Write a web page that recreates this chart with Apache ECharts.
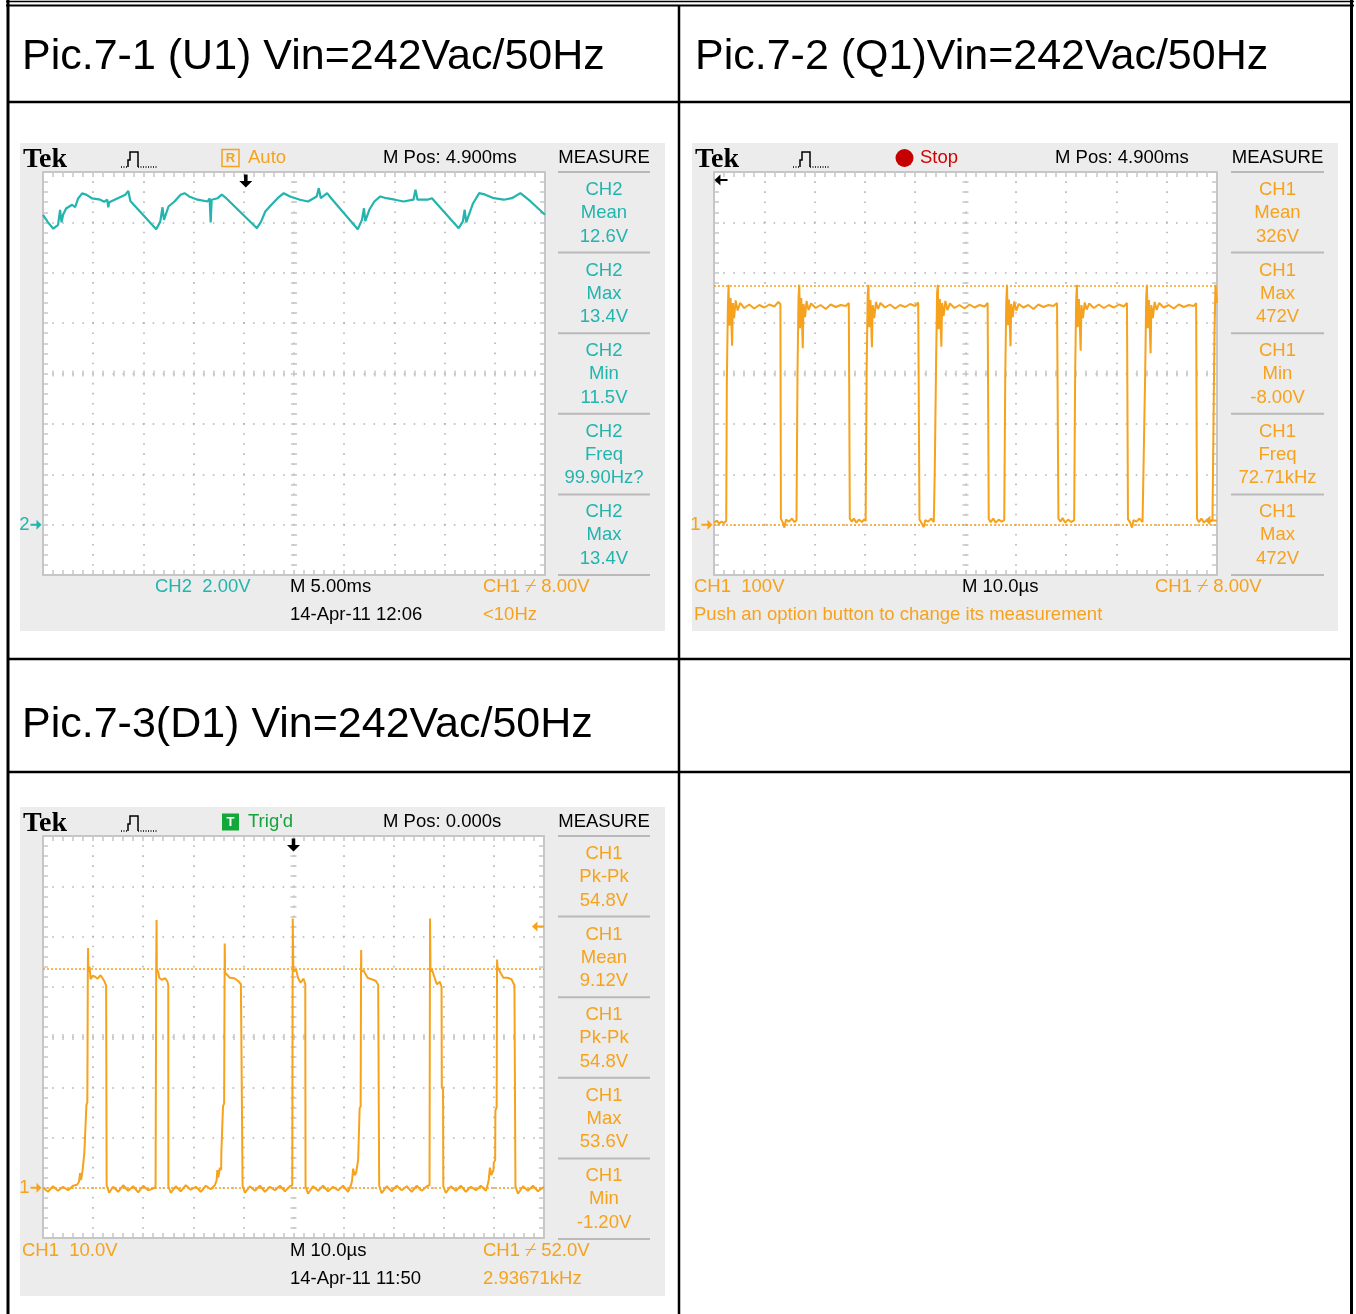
<!DOCTYPE html>
<html><head><meta charset="utf-8">
<script src="https://cdn.jsdelivr.net/npm/echarts@6/dist/echarts.min.js"></script>
<style>html,body{margin:0;padding:0;background:#fff}#c{width:1356px;height:1314px}</style>
</head><body><div id="c"></div>
<script>
// ---------- text content ----------
const titles = ['Pic.7-1 (U1) Vin=242Vac/50Hz', 'Pic.7-2 (Q1)Vin=242Vac/50Hz', 'Pic.7-3(D1) Vin=242Vac/50Hz'];
const u1Measure = [['CH2','Mean','12.6V'],['CH2','Max','13.4V'],['CH2','Min','11.5V'],['CH2','Freq','99.90Hz?'],['CH2','Max','13.4V']];
const q1Measure = [['CH1','Mean','326V'],['CH1','Max','472V'],['CH1','Min','-8.00V'],['CH1','Freq','72.71kHz'],['CH1','Max','472V']];
const d1Measure = [['CH1','Pk-Pk','54.8V'],['CH1','Mean','9.12V'],['CH1','Pk-Pk','54.8V'],['CH1','Max','53.6V'],['CH1','Min','-1.20V']];
const u1Status = ['Auto', 'M Pos: 4.900ms', 'CH2  2.00V', 'M 5.00ms', 'CH1 \u233F 8.00V', '14-Apr-11 12:06', '<10Hz'];
const q1Status = ['Stop', 'M Pos: 4.900ms', 'CH1  100V', 'M 10.0\u00B5s', 'CH1 \u233F 8.00V', 'Push an option button to change its measurement'];
const d1Status = ["Trig'd", 'M Pos: 0.000s', 'CH1  10.0V', 'M 10.0\u00B5s', 'CH1 \u233F 52.0V', '14-Apr-11 11:50', '2.93671kHz'];

// ---------- axis ranges (time per screen, volts per screen) ----------
const u1X = [0, 50, 5];      // ms, 5.00ms/div
const u1Y = [-2, 14, 2];     // V, 2.00V/div
const q1X = [0, 100, 10];    // us, 10.0us/div
const q1Y = [-100, 700, 100];// V, 100V/div
const d1X = [0, 100, 10];
const d1Y = [-10, 70, 10];   // V, 10.0V/div

// ---------- waveforms [time, volts] ----------
const u1Wave = [
 [0,12.3],[0.5,12.0],[1.03,11.75],[1.5,11.9],[1.7,12.5],[1.85,12.0],[2.0,12.3],[2.3,12.55],[2.9,12.7],[3.2,12.6],[3.5,12.95],[3.9,13.15],[4.3,13.1],[4.9,12.95],[5.7,12.9],[6.1,12.82],[6.4,12.9],[6.5,12.6],[6.6,12.8],[7.4,12.95],[8.2,13.1],[8.5,13.25],[8.7,12.85],[11.28,11.73],
 [11.68,12.03],[11.9,12.6],[12.05,12.1],[12.5,12.63],[13.1,12.83],[13.7,13.1],[14.1,13.16],[14.55,13.03],[15.4,12.9],[16.4,12.83],[16.6,12.95],[16.7,12.0],[16.8,12.9],[17.4,12.96],[17.8,13.1],[18.25,12.96],[21.31,11.77],
 [21.72,12.03],[22.14,12.43],[22.75,12.7],[23.37,12.96],[23.98,13.16],[24.6,13.03],[25.6,12.9],[26.4,12.83],[27.26,13.03],[27.47,13.36],[27.67,12.96],[28.3,13.16],[28.7,12.96],[31.35,11.73],
 [31.77,12.1],[31.97,12.56],[32.1,12.05],[32.5,12.5],[33.0,12.83],[33.6,13.03],[34.2,12.96],[35.05,12.9],[35.9,12.83],[36.9,12.9],[37.1,13.3],[37.3,12.9],[38.3,12.9],[38.74,12.96],[41.4,11.77],
 [41.81,12.03],[42.0,12.5],[42.15,12.0],[42.84,12.76],[43.45,13.16],[44.06,13.1],[44.9,12.96],[45.9,12.9],[46.7,12.96],[47.55,13.16],[47.96,13.03],[48.57,12.83],[50,12.3]
];
const q1Wave = [
 [0,4],[0.6,8],[1.0,2],[1.5,6],[2.0,3],[2.35,5],
 [2.43,8],[2.55,280],[2.75,430],[2.9,476],[3.05,395],[3.3,450],[3.6,355],[3.75,440],[4.0,410],[4.3,445],[4.7,425],[5.2,440],[6.0,430],[7.0,437],[8.0,429],[9.0,436],[10.0,431],[11.0,437],[12.0,433],[12.8,442],[13.2,438],[13.3,12],
 [13.7,4],[14.0,-6],[14.3,10],[14.9,6],[15.5,12],[16.0,5],[16.4,9],
 [16.48,9],[16.6,300],[16.8,450],[16.95,476],[17.1,390],[17.35,450],[17.65,350],[17.8,438],[18.1,412],[18.4,444],[18.8,426],[19.3,439],[20.2,430],[21.2,436],[22.2,428],[23.2,437],[24.2,432],[25.2,436],[26.2,434],[26.8,440],[27.0,12],
 [27.4,6],[27.8,12],[28.3,4],[28.8,10],[29.4,5],[29.9,11],[30.15,7],
 [30.2,7],[30.35,310],[30.55,455],[30.7,476],[30.85,392],[31.1,446],[31.4,352],[31.55,436],[31.85,410],[32.2,442],[32.6,428],[33.1,440],[34.0,431],[35.0,437],[36.0,429],[37.0,436],[38.0,432],[39.0,438],[40.0,434],[40.6,441],[40.85,10],
 [41.2,4],[41.7,-5],[42.0,9],[42.6,6],[43.2,12],[43.7,5],
 [43.85,8],[43.9,115],[44.04,118],[44.15,320],[44.35,460],[44.5,476],[44.65,388],[44.9,448],[45.2,353],[45.35,440],[45.65,414],[46.0,444],[46.4,426],[46.9,439],[47.8,430],[48.8,436],[49.8,429],[50.8,437],[51.8,431],[52.8,436],[53.8,433],[54.4,440],[54.62,11],
 [55.0,5],[55.5,12],[56.0,4],[56.6,10],[57.2,6],[57.7,9],
 [57.76,8],[57.9,290],[58.1,440],[58.25,476],[58.4,396],[58.65,447],[58.95,354],[59.1,438],[59.4,412],[59.7,443],[60.1,425],[60.6,438],[61.5,431],[62.5,436],[63.5,428],[64.5,437],[65.5,432],[66.5,436],[67.5,434],[68.2,440],[68.47,12],
 [68.9,6],[69.3,13],[69.8,4],[70.4,10],[71.0,5],[71.6,9],
 [71.67,9],[71.8,300],[72.0,445],[72.15,476],[72.3,392],[72.55,448],[72.9,345],[73.05,436],[73.35,410],[73.7,441],[74.1,427],[74.6,439],[75.5,430],[76.5,437],[77.5,430],[78.5,436],[79.5,431],[80.5,437],[81.5,433],[82.1,440],[82.3,11],
 [82.7,5],[83.1,-6],[83.4,9],[84.0,6],[84.6,12],[85.2,5],[85.55,8],
 [85.59,8],[85.72,300],[85.92,450],[86.07,476],[86.22,390],[86.47,446],[86.8,340],[86.95,436],[87.25,410],[87.6,442],[88.0,426],[88.5,440],[89.4,431],[90.4,436],[91.4,429],[92.4,437],[93.4,432],[94.4,436],[95.4,434],[95.85,440],[96.02,12],
 [96.4,5],[96.9,12],[97.4,4],[98.0,10],[98.6,6],[99.1,9],[99.42,8],[99.5,380],[99.7,476],[100,440]
];
const d1Wave = [
 [0,0],[1,-0.8],[2,0.3],[3,-0.6],[4,0.2],[5,-0.5],[6,0.4],[6.8,0.6],
 [7.19,1.2],[7.4,2.9],[7.6,1.5],[7.9,3.5],[8.2,3.2],[8.25,6.9],[8.6,7.2],[8.67,16.5],[8.85,17],[8.95,44],[9.0,47.7],[9.05,43],[9.3,44],[9.5,41.5],[9.9,42.2],[10.4,42],[10.9,41.6],[11.5,42.3],[12.2,41.2],[12.6,40.2],[12.7,0.5],
 [13.2,-1],[14,0.2],[15,-0.8],[16,0.5],[17,-0.6],[18,0.3],[19,-0.9],[20,0.4],[21,-0.5],[22.4,0],
 [22.47,0.5],[22.6,44],[22.67,53.3],[22.72,43.5],[23.0,43],[23.2,41.8],[23.7,41.4],[24.4,41.7],[24.85,41],[25.0,40.3],[25.02,0.3],
 [25.5,-1],[26.5,0.3],[27.5,-0.7],[28.5,0.5],[29.5,-0.4],[30.5,0.2],[31.5,-0.8],[32.5,0.4],[33.5,-0.3],[34.3,0.5],
 [34.66,1.5],[34.8,3.5],[35.0,2.0],[35.3,4.0],[35.55,3.5],[35.6,7],[35.85,7.3],[35.93,16.2],[36.15,16.8],[36.25,43],[36.27,48.6],[36.35,42.8],[36.7,43],[37.3,41.8],[38.2,41.7],[38.9,41.2],[39.5,40.5],[39.8,40.2],[39.84,0.4],
 [40.3,-1],[41.3,0.3],[42.3,-0.6],[43.3,0.4],[44.3,-0.8],[45.3,0.2],[46.3,-0.5],[47.3,0.4],[48.3,-0.7],[49.3,0.3],[49.75,0.5],
 [49.8,0.5],[49.85,53.6],[49.95,44],[50.1,43],[50.5,43.5],[50.9,41.8],[51.4,40.8],[52.0,41.6],[52.35,40.5],[52.4,0.3],
 [52.9,-1.2],[53.9,0.3],[54.9,-0.6],[55.9,0.4],[56.9,-0.7],[57.9,0.2],[58.9,-0.5],[59.9,0.4],[60.9,-0.8],[61.5,0.6],
 [61.7,1.5],[61.9,3.8],[62.2,2.5],[62.5,3.0],[62.85,3.2],[62.9,5.5],[63.15,5.8],[63.2,15.8],[63.4,16.2],[63.48,43],[63.5,47.3],[63.55,43],[64.0,43.2],[64.8,41.8],[65.6,41.5],[66.4,41.2],[66.9,40.4],[67.1,0.4],
 [67.6,-1.1],[68.6,0.3],[69.6,-0.7],[70.6,0.4],[71.6,-0.5],[72.6,0.3],[73.6,-0.8],[74.6,0.4],[75.6,-0.6],[76.6,0.3],[77.15,0.5],
 [77.2,0.5],[77.25,53.6],[77.35,43],[77.6,43.5],[78.1,42],[78.6,40.5],[79.2,41],[79.55,40],[79.6,20],[79.85,19.5],[79.9,0.3],
 [80.4,-1],[81.4,0.3],[82.4,-0.6],[83.4,0.4],[84.4,-0.8],[85.4,0.2],[86.4,-0.5],[87.4,0.4],[88.4,-0.6],[88.8,0.8],
 [88.96,1.5],[89.2,4.0],[89.5,2.5],[89.9,3.5],[89.98,5.0],[90.25,5.5],[90.3,15.4],[90.55,16],[90.62,43],[90.64,45.4],[90.7,44],[91.2,43],[91.9,41.8],[92.7,41.8],[93.5,41.5],[94.1,40.3],[94.3,0.3],
 [94.8,-1.2],[95.8,0.3],[96.8,-0.6],[97.8,0.4],[98.8,-0.7],[100,0.2]
];
// markers: ground level, trigger level, trigger time, cursor lines
const u1Markers = {ground: 0, trigTime: 20.2};
const q1Markers = {ground: 0, trigLevel: 8, cursors: [474, 0]};
const d1Markers = {ground: 0, trigLevel: 52, trigTime: 50, cursors: [43.5, 0]};

// ---------- styles ----------
const TEAL = '#22b4ad', ORANGE = '#f6a21c', FRAME = '#c6c6c6', DOT = '#b3b3b3', PANEL = '#ececec';
const FAM = '"Liberation Sans", Arial, sans-serif';
const FONT = '18.5px ' + FAM;
const TEK = 'bold 28px "Liberation Serif", "Times New Roman", serif';
const HFONT = '43px ' + FAM;

const grids = [
  {left: 43, top: 172, width: 502, height: 403},
  {left: 714, top: 172, width: 503, height: 403},
  {left: 43, top: 836, width: 501, height: 402}
];
grids.forEach(g => { g.show = true; g.backgroundColor = '#fff'; g.borderWidth = 0; g.containLabel = false; });

const xAxes = [], yAxes = [];
function addAxes(gi, xr, yr) {
  const g = grids[gi], w = g.width, h = g.height;
  const base = {gridIndex: gi, type: 'value', axisLabel: {show: false}, splitLine: {show: false}};
  const line = {show: true, onZero: false, lineStyle: {color: FRAME, width: 2}};
  const tick = {show: true, inside: true, length: 5, lineStyle: {color: FRAME, width: 1.5}};
  const minor = {show: true, splitNumber: 5, length: 5, lineStyle: {color: FRAME, width: 1.5}};
  const ctick = {show: true, inside: true, length: 6, lineStyle: {color: FRAME, width: 1.5}};
  const cminor = {show: true, splitNumber: 5, length: 6, lineStyle: {color: FRAME, width: 1.5}};
  const xs = {min: xr[0], max: xr[1], interval: xr[2]};
  const ys = {min: yr[0], max: yr[1], interval: yr[2]};
  const xi = xAxes.length, yi = yAxes.length;
  xAxes.push(Object.assign({}, base, xs, {position: 'bottom', axisLine: line, axisTick: tick, minorTick: minor,
    splitLine: {show: true, lineStyle: {color: DOT, width: 1.6, type: [1.6, h / 40 - 1.6], dashOffset: 0.8}}}));
  xAxes.push(Object.assign({}, base, xs, {position: 'top', axisLine: line, axisTick: tick, minorTick: minor}));
  xAxes.push(Object.assign({}, base, xs, {position: 'bottom', offset: -(h / 2 - 3), axisLine: {show: false, onZero: false}, axisTick: ctick, minorTick: cminor}));
  yAxes.push(Object.assign({}, base, ys, {position: 'left', axisLine: line, axisTick: tick, minorTick: minor,
    splitLine: {show: true, lineStyle: {color: DOT, width: 1.6, type: [1.6, w / 50 - 1.6], dashOffset: 0.8}}}));
  yAxes.push(Object.assign({}, base, ys, {position: 'right', axisLine: line, axisTick: tick, minorTick: minor}));
  yAxes.push(Object.assign({}, base, ys, {position: 'left', offset: -(w / 2 - 3), axisLine: {show: false, onZero: false}, axisTick: ctick, minorTick: cminor}));
  return [xi, yi];
}
const a1 = addAxes(0, u1X, u1Y), a2 = addAxes(1, q1X, q1Y), a3 = addAxes(2, d1X, d1Y);

const ARROW_R = 'path://M0,4 L6,4 L6,0 L11,5 L6,10 L6,6 L0,6 Z';
const ARROW_L = 'path://M11,4 L5,4 L5,0 L0,5 L5,10 L5,6 L11,6 Z';
const ARROW_D = 'path://M4,0 L7,0 L7,6 L11,6 L5.5,12 L0,6 L4,6 Z';

function groundMark(x, y, label, color) {
  return {coord: [x, y], symbol: ARROW_R, symbolSize: [11, 10], symbolOffset: [-7, 0], itemStyle: {color},
    label: {show: true, formatter: label, position: 'left', distance: 1, color, fontSize: 18.5, fontFamily: FAM}};
}
function trigTimeMark(x, y) {
  return {coord: [x, y], symbol: ARROW_D, symbolSize: [13, 13], symbolOffset: [0, 9], itemStyle: {color: '#000'}, label: {show: false}};
}
function trigLevelMark(x, y, color) {
  return {coord: [x, y], symbol: ARROW_L, symbolSize: [12, 10], symbolOffset: [-6, 0], itemStyle: {color}, label: {show: false}};
}

const series = [
  {type: 'line', xAxisIndex: a1[0], yAxisIndex: a1[1], data: u1Wave, symbol: 'none', lineStyle: {color: TEAL, width: 2.2}, z: 5,
   markPoint: {silent: true, data: [groundMark(u1X[0], u1Markers.ground, '2', TEAL), trigTimeMark(u1Markers.trigTime, u1Y[1])]}},
  {type: 'line', xAxisIndex: a2[0], yAxisIndex: a2[1], data: q1Wave, symbol: 'none', lineStyle: {color: ORANGE, width: 2}, z: 5,
   markLine: {silent: true, symbol: 'none', label: {show: false}, lineStyle: {color: ORANGE, type: [2, 2], width: 1.5}, data: q1Markers.cursors.map(v => ({yAxis: v}))},
   markPoint: {silent: true, data: [groundMark(q1X[0], q1Markers.ground, '1', ORANGE), trigLevelMark(q1X[1], q1Markers.trigLevel, ORANGE),
     {coord: [q1X[0], q1Y[1]], symbol: ARROW_L, symbolSize: [13, 11], symbolOffset: [7, 8], itemStyle: {color: '#000'}, label: {show: false}}]}},
  {type: 'line', xAxisIndex: a3[0], yAxisIndex: a3[1], data: d1Wave, symbol: 'none', lineStyle: {color: ORANGE, width: 2}, z: 5,
   markLine: {silent: true, symbol: 'none', label: {show: false}, lineStyle: {color: ORANGE, type: [2, 2], width: 1.5}, data: d1Markers.cursors.map(v => ({yAxis: v}))},
   markPoint: {silent: true, data: [groundMark(d1X[0], d1Markers.ground, '1', ORANGE), trigLevelMark(d1X[1], d1Markers.trigLevel, ORANGE), trigTimeMark(d1Markers.trigTime, d1Y[1])]}}
];

// ---------- graphic: table, panels, texts ----------
const gfx = [];
function T(x, y, text, color, font, align) {
  gfx.push({type: 'text', x, y, z: 20, silent: true, style: {text, fill: color, font: font || FONT,
    align: align || 'left', verticalAlign: 'middle', textAlign: align || 'left', textVerticalAlign: 'middle'}});
}
function L(x1, y1, x2, y2, w, color, dash) {
  gfx.push({type: 'line', z: 15, silent: true, shape: {x1, y1, x2, y2}, style: {stroke: color || '#000', lineWidth: w, lineDash: dash || null}});
}
function R(x, y, w, h, fill, stroke, z) {
  gfx.push({type: 'rect', z: z == null ? -1 : z, silent: true, shape: {x, y, width: w, height: h}, style: {fill: fill || null, stroke: stroke || null, lineWidth: 1.5}});
}
function trigIcon(ox, oy) {
  L(ox, oy + 8, ox + 7, oy + 8, 1.3, '#000', [1, 1.5]);
  gfx.push({type: 'polyline', z: 15, silent: true, shape: {points: [[ox + 7, oy + 8], [ox + 7, oy + 1], [ox + 9, oy + 1], [ox + 9, oy - 7], [ox + 17, oy - 7], [ox + 17, oy + 8]]},
    style: {stroke: '#000', lineWidth: 1.5, fill: null}});
  L(ox + 17, oy + 8, ox + 37, oy + 8, 1.3, '#000', [1, 1.5]);
}
function measurePanel(x1, x2, top, rows, color) {
  const step = 80.6, cx = (x1 + x2) / 2;
  T(cx, top - 14, 'MEASURE', '#000', FONT, 'center');
  for (let k = 0; k <= rows.length; k++) L(x1, top + k * step, x2, top + k * step, 2, '#b9b9b9');
  rows.forEach((r, k) => {
    T(cx, top + k * step + 18, r[0], color, FONT, 'center');
    T(cx, top + k * step + 41, r[1], color, FONT, 'center');
    T(cx, top + k * step + 64.5, r[2], color, FONT, 'center');
  });
}

// scope panels
R(20, 143, 645, 488, PANEL);
R(692, 143, 646, 488, PANEL);
R(20, 807, 645, 489, PANEL);

// table lines
L(6, 1.5, 1354, 1.5, 1.5);
L(6, 5.5, 1354, 5.5, 2);
L(8, 0, 8, 1314, 3);
L(679, 5, 679, 1314, 2.5);
L(1351.5, 0, 1351.5, 1314, 3);
L(8, 102, 1352, 102, 2.5);
L(8, 659, 1352, 659, 2.5);
L(8, 772, 1352, 772, 2.5);

// headings
T(22, 57, titles[0], '#000', HFONT);
T(695, 57, titles[1], '#000', HFONT);
T(22, 725, titles[2], '#000', HFONT);

// scope 1
T(23, 160, 'Tek', '#000', TEK);
trigIcon(121, 159);
R(222, 149.5, 17, 17, null, ORANGE, 20);
T(230.5, 158.5, 'R', ORANGE, 'bold 13px ' + FAM, 'center');
T(248, 158, u1Status[0], ORANGE);
T(383, 158, u1Status[1], '#000');
measurePanel(558, 650, 172, u1Measure, TEAL);
T(155, 587, u1Status[2], TEAL);
T(290, 587, u1Status[3], '#000');
T(483, 587, u1Status[4], ORANGE);
T(290, 615, u1Status[5], '#000');
T(483, 615, u1Status[6], ORANGE);

// scope 2
T(695, 160, 'Tek', '#000', TEK);
trigIcon(793, 159);
gfx.push({type: 'circle', z: 20, silent: true, shape: {cx: 904.5, cy: 158, r: 9}, style: {fill: '#c40000'}});
T(920, 158, q1Status[0], '#d40000');
T(1055, 158, q1Status[1], '#000');
measurePanel(1231, 1324, 172, q1Measure, ORANGE);
T(694, 587, q1Status[2], ORANGE);
T(962, 587, q1Status[3], '#000');
T(1155, 587, q1Status[4], ORANGE);
T(694, 615, q1Status[5], ORANGE);

// scope 3
T(23, 824, 'Tek', '#000', TEK);
trigIcon(121, 823);
R(222, 813.5, 17, 17, '#12a83a', null, 20);
T(230.5, 822.5, 'T', '#fff', 'bold 13px ' + FAM, 'center');
T(248, 822, d1Status[0], '#14a33a');
T(383, 822, d1Status[1], '#000');
measurePanel(558, 650, 836, d1Measure, ORANGE);
T(22, 1251, d1Status[2], ORANGE);
T(290, 1251, d1Status[3], '#000');
T(483, 1251, d1Status[4], ORANGE);
T(290, 1279, d1Status[5], '#000');
T(483, 1279, d1Status[6], ORANGE);

const chart = echarts.init(document.getElementById('c'), null, {renderer: 'canvas'});
chart.setOption({
  animation: false,
  backgroundColor: '#fff',
  grid: grids,
  xAxis: xAxes,
  yAxis: yAxes,
  series: series,
  graphic: {elements: gfx}
});
</script>
</body></html>
